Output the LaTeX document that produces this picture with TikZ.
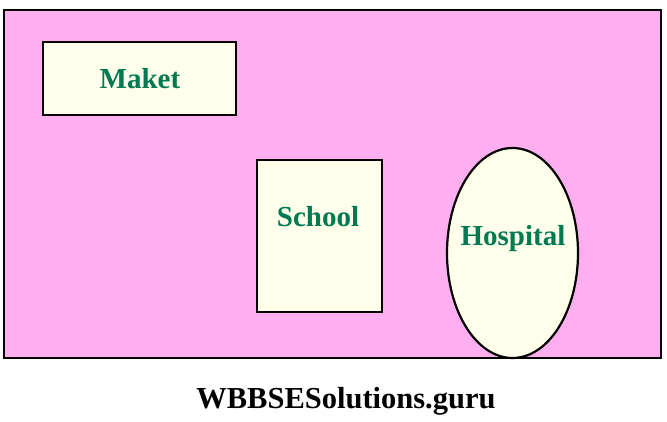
\documentclass[tikz,border=0pt]{standalone}
\usepackage{fontspec}
\setmainfont{Liberation Serif}
\usetikzlibrary{shapes.geometric}
\definecolor{pinkbg}{RGB}{255,174,240}
\definecolor{cream}{RGB}{255,255,236}
\definecolor{labgreen}{RGB}{0,122,80}
\begin{document}
\begin{tikzpicture}[x=1pt,y=-1pt,
  placebox/.style={draw=black,line width=2.2pt,fill=cream},
  placelabel/.style={anchor=base,text=labgreen,font=\fontsize{29}{34}\selectfont\bfseries,inner sep=0pt},
]
\useasboundingbox (0,0) rectangle (667,422);
\draw[line width=2.2pt,fill=pinkbg] (4,10) rectangle (661,358);
\draw[placebox] (43,42) rectangle (236,115);
\draw[placebox] (257,160) rectangle (382,312);
\draw[placebox] (512.5,253) ellipse [x radius=65.5,y radius=105];
\node[placelabel] (maket) at (140,89) {Maket};
\node[placelabel] (school) at (318,227) {School};
\node[placelabel] (hospital) at (513,246) {Hospital};
\node[anchor=base,inner sep=0pt,font=\fontsize{30.5}{36}\selectfont\bfseries] (site) at (346,408) {WBBSESolutions.guru};
\end{tikzpicture}
\end{document}
